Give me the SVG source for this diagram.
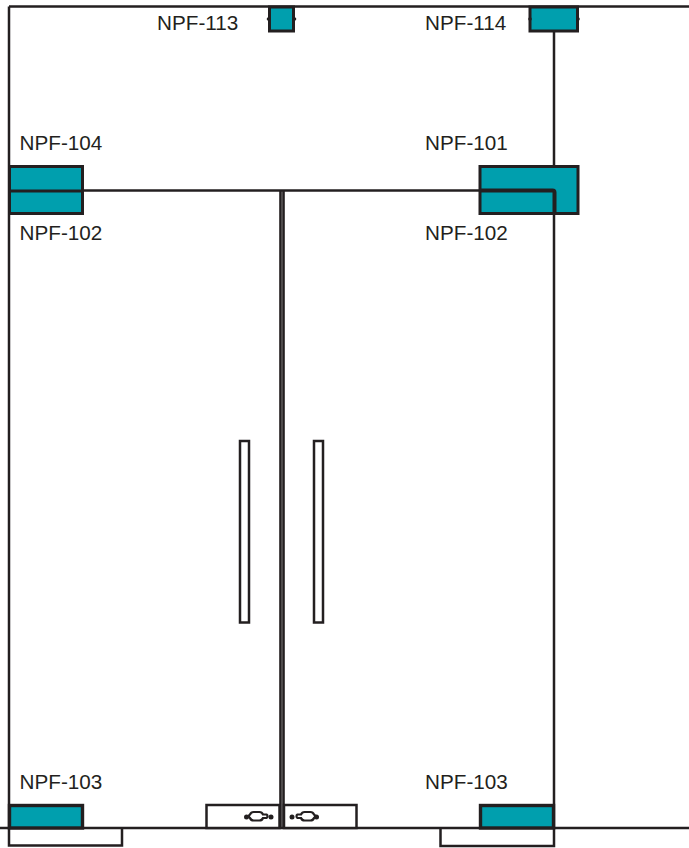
<svg xmlns="http://www.w3.org/2000/svg" width="689" height="848" viewBox="0 0 689 848">
<style>
.l{fill:none;stroke:#231f20;stroke-width:2.500}
.c{fill:none;stroke:#231f20;stroke-width:2.600}
.t{fill:#009fae;stroke:#231f20;stroke-width:3}
.h{fill:#fff;stroke:#231f20;stroke-width:2.500}
.k{fill:none;stroke:#231f20;stroke-width:2.200}
.d{fill:#231f20}
text{font-family:"Liberation Sans",Arial,sans-serif;font-size:20.700px;fill:#231f20}
</style>
<g id="connectors">
<path class="l" d="M9 6.500H689M9 6.500V845.500H122V828M0 828H689M440.500 828V846H554V828"/>
<path class="l" d="M554 30V828"/>
<path class="l" d="M9 190.500H480"/>
<path class="c" d="M280.500 190.500V828M283.500 190.500V828"/>
</g>
<g id="npf-113"><rect class="t" x="269.500" y="7" width="24" height="24"/><circle class="d" cx="268.500" cy="19" r="1.800"/><circle class="d" cx="294.500" cy="19" r="1.800"/><text x="157" y="30">NPF-113</text></g>
<g id="npf-114"><rect class="t" x="530" y="7" width="47.500" height="24"/><circle class="d" cx="530" cy="19" r="1.800"/><circle class="d" cx="578" cy="19" r="1.800"/><text x="425" y="30">NPF-114</text></g>
<g id="npf-104"><rect class="t" x="9.500" y="166.500" width="73" height="47"/><path class="l" style="stroke-width:3" d="M9 191H83"/><text x="19.500" y="150">NPF-104</text><text x="19.500" y="240">NPF-102</text></g>
<g id="npf-101"><rect class="t" x="480" y="166.500" width="98" height="47"/><path class="l" style="stroke-width:4" d="M480 190.500H552.500Q554.500 190.500 554.500 192.500V213"/><text x="425" y="150">NPF-101</text><text x="425" y="240">NPF-102</text></g>
<g id="npf-103-left"><rect class="t" x="9.500" y="805.500" width="73" height="22.500" style="stroke-width:3.400"/><text x="19.500" y="789">NPF-103</text></g>
<g id="npf-103-right"><rect class="t" x="480.500" y="805.500" width="73" height="22.500" style="stroke-width:3.400"/><text x="425" y="789">NPF-103</text></g>
<g id="handle-left"><rect class="h" x="240" y="441" width="9" height="181.500"/></g>
<g id="handle-right"><rect class="h" x="314" y="441" width="9" height="181.500"/></g>
<g id="lock-left"><rect class="h" x="206.500" y="805" width="73" height="23"/><path class="k" d="M250 814.500a4 4 0 0 1 4-2.500h5a4 4 0 0 1 4 2.500h3.500a2 2 0 0 1 0 3.500h-3.500a4 4 0 0 1-4 2.500h-5a4 4 0 0 1-4-2.500a2 2 0 0 1 0-3.500z"/><circle class="d" cx="246.500" cy="817" r="2.500"/><circle class="d" cx="271" cy="817" r="2.500"/></g>
<g id="lock-right"><rect class="h" x="284" y="805" width="72.500" height="23"/><path class="k" d="M314 814.500a4 4 0 0 0-4-2.500h-5a4 4 0 0 0-4 2.500h-3.500a2 2 0 0 0 0 3.500h3.500a4 4 0 0 0 4 2.500h5a4 4 0 0 0 4-2.500a2 2 0 0 0 0-3.500z"/><circle class="d" cx="292" cy="817" r="2.500"/><circle class="d" cx="316.500" cy="817" r="2.500"/></g>
</svg>
